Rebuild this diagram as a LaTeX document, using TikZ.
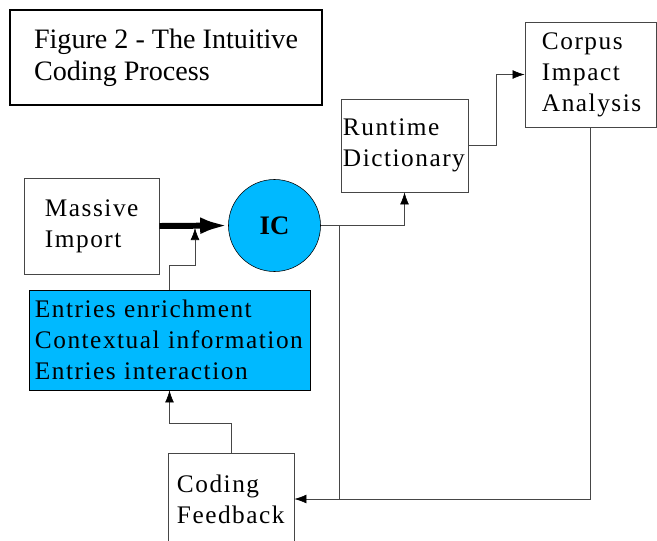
\documentclass[tikz,border=0pt]{standalone}
\usepackage{fontspec}
\setmainfont{Liberation Serif}
\newfontfamily\spacedfont{Liberation Serif}[LetterSpace=6]
\usepackage{tikz}
\usetikzlibrary{arrows.meta, calc}
\definecolor{icblue}{RGB}{0,185,255}
\definecolor{linegray}{RGB}{70,70,70}

\begin{document}
\begin{tikzpicture}[x=0.025cm, y=-0.025cm, >={Latex[length=0.3cm,width=0.22cm,black]}, semithick]
\tikzstyle{box}=[draw=linegray, fill=white, rectangle, inner ysep=0pt, align=left, font=\spacedfont\fontsize{18}{22}\selectfont]
\tikzstyle{link}=[->, draw=linegray, thin]
\useasboundingbox (0,0) rectangle (657,540);
\node[box, minimum width=3.175cm, minimum height=2.325cm, inner xsep=0.05cm, text width=3.075cm]  (runtime)  at (404.5,145.5) {Runtime\\Dictionary};
\node[draw=black, line width=1.5pt, fill=white, minimum width=7.8cm, minimum height=2.375cm, align=left, font=\fontsize{20}{22.5}\selectfont] (title) at (166,57.5) {Figure 2 - The Intuitive\\Coding Process};
\node[box, minimum width=3.275cm, minimum height=2.625cm, inner xsep=0.425cm, text width=2.425cm]  (corpus)   at (590.5,74.5) {Corpus\\Impact\\Analysis};
\node[box, minimum width=3.375cm, minimum height=2.4cm, inner xsep=0.525cm, text width=2.325cm]    (massive)  at (91.5,226)   {Massive\\Import};
\node[circle, draw=black, thin, fill=icblue, minimum size=2.3cm, font=\bfseries\fontsize{19}{22}\selectfont] (ic) at (274.5,225.5) {IC};
\node[box, draw=black, fill=icblue, minimum width=7.025cm, minimum height=2.5cm, inner xsep=0.15cm, text width=6.725cm] (entries) at (169.5,340) {Entries enrichment\\Contextual information\\Entries interaction};
\node[box, minimum width=3.15cm, minimum height=2.3cm, inner xsep=0.225cm, text width=2.7cm]       (feedback) at (231,499)    {Coding\\Feedback};
\coordinate (join)  at (195,228);
\coordinate (split) at (339,225.5);
\draw[->, line width=4.25pt, >={Latex[length=0.7cm,width=0.42cm]}] (massive.east) -- (ic.west);
\draw[link] (entries.north) |- (195,265) -- (join);
\draw[link] (ic.east) -| (runtime.south);
\draw[link] (runtime.east) -- ++(28,0) |- (corpus.west);
\draw[link] (corpus.south) |- (feedback.east);
\draw[draw=linegray, thin] (split) -- (split |- feedback.east);
\draw[link] (feedback.north) -- ++(0,-29) -| (entries.south);
\end{tikzpicture}
\end{document}
